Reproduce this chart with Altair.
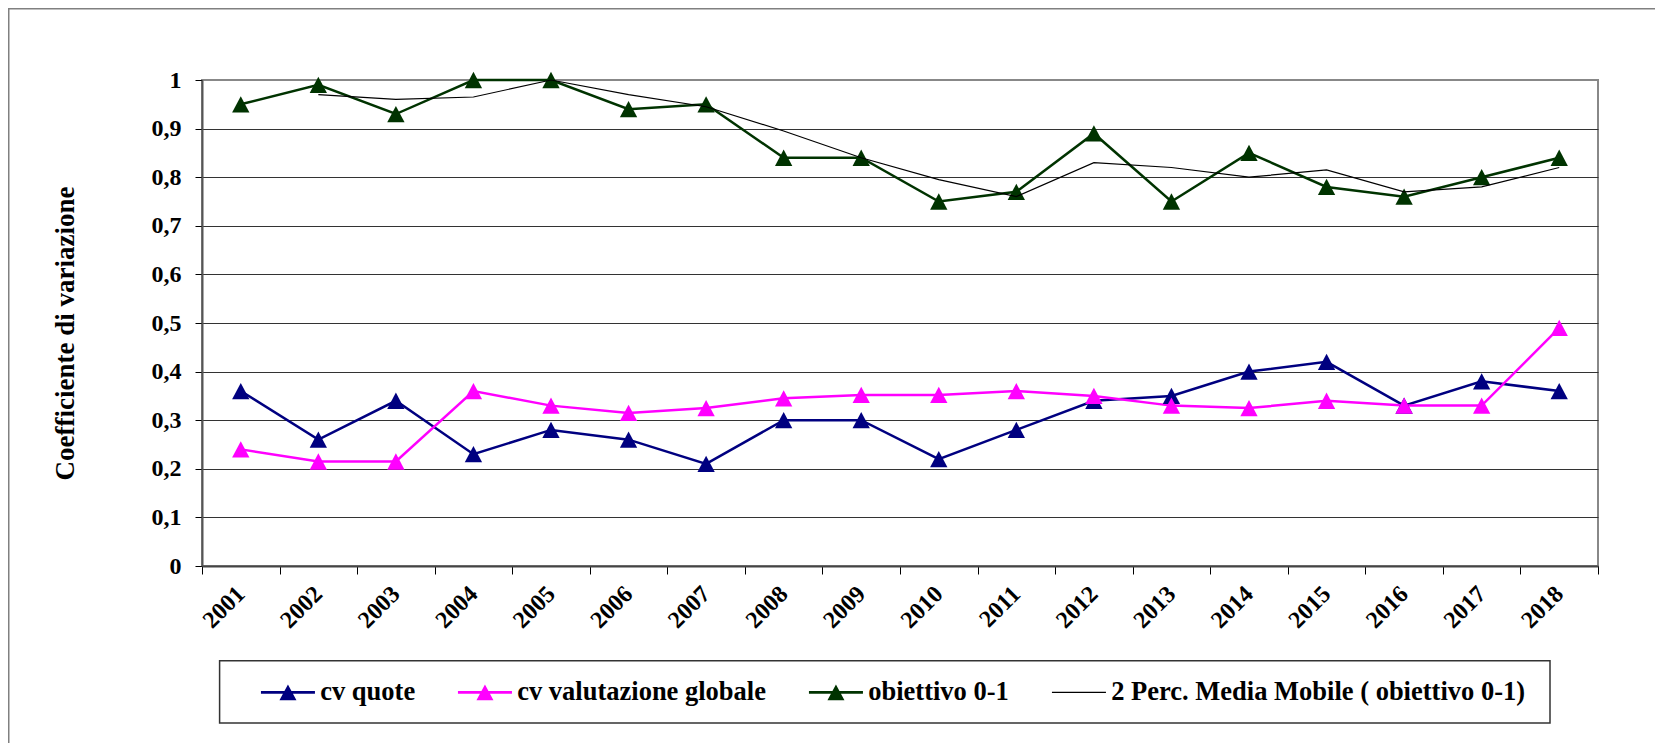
import altair as alt
import pandas as pd

# ---------------- data ----------------
years = [str(y) for y in range(2001, 2019)]
cv_quote = [0.36, 0.26, 0.34, 0.23, 0.28, 0.26, 0.21, 0.30, 0.30, 0.22,
            0.28, 0.34, 0.35, 0.40, 0.42, 0.33, 0.38, 0.36]
cv_valutazione = [0.24, 0.215, 0.215, 0.36, 0.33, 0.315, 0.325, 0.345, 0.352, 0.352,
                  0.36, 0.35, 0.33, 0.325, 0.34, 0.33, 0.33, 0.49]
obiettivo = [0.95, 0.99, 0.93, 1.00, 1.00, 0.94, 0.95, 0.84, 0.84, 0.75,
             0.77, 0.89, 0.75, 0.85, 0.78, 0.76, 0.80, 0.84]
media_mobile = [None, 0.97, 0.96, 0.965, 1.00, 0.97, 0.945, 0.895, 0.84, 0.795,
                0.76, 0.83, 0.82, 0.80, 0.815, 0.77, 0.78, 0.82]

series_names = ["cv quote", "cv valutazione globale", "obiettivo 0-1",
                "2 Perc. Media Mobile ( obiettivo 0-1)"]
series_values = [cv_quote, cv_valutazione, obiettivo, media_mobile]
series_colors = ["#000080", "#FF00FF", "#003300", "#000000"]
series_widths = [2.5, 2.5, 3.0, 1.2]
y_ticks = [0, 0.1, 0.2, 0.3, 0.4, 0.5, 0.6, 0.7, 0.8, 0.9, 1.0]
y_title = "Coefficiente di variazione"

rows = []
for name, vals in zip(series_names, series_values):
    for yr, v in zip(years, vals):
        if v is not None:
            rows.append({"anno": yr, "valore": v, "serie": name})
df = pd.DataFrame(rows)

MA = series_names[3]
FONT = "Liberation Serif"
TRI = "M0,-0.94L1,0.94L-1,0.94Z"

LEG_TRI = "M-2.077,-0.1H2.077V0.1H-2.077ZM0,-0.615L0.654,0.615H-0.654Z"
LEG_LINE = "M-2.077,-0.04H2.077V0.04H-2.077Z"

x_enc = alt.X(
    "anno:O",
    sort=years,
    bandPosition=0.5,
    scale=alt.Scale(type="band", paddingInner=0, paddingOuter=0),
    axis=alt.Axis(
        title=None, labelAngle=-45, labelAlign="right", labelBaseline="middle",
        labelFont=FONT, labelFontSize=24, labelFontWeight="bold", labelColor="#000",
        labelPadding=16, tickBand="extent", tickSize=8, tickColor="#000",
        tickWidth=1, domainColor="#444", domainWidth=2, grid=False,
    ),
)
y_enc = alt.Y(
    "valore:Q",
    scale=alt.Scale(domain=[0, 1], nice=False, zero=True),
    axis=alt.Axis(
        values=y_ticks,
        labelExpr="replace(format(datum.value, '.1~f'), '.', ',')",
        labelFont=FONT, labelFontSize=24, labelFontWeight="bold", labelColor="#000",
        labelPadding=14, tickSize=7, tickColor="#000", tickWidth=1,
        domainColor="#555", domainWidth=2,
        grid=True, gridColor={"condition": {"test": "datum.value == 1", "value": "#888"}, "value": "#333"},
        gridWidth=1,
        title=y_title, titleFont=FONT, titleFontSize=27, titleFontWeight="bold",
        titleColor="#000", titleAngle=270, titleX=-129, titleY=253,
        titleBaseline="alphabetic", titleAlign="center",
    ),
)

base = alt.Chart(df)

# lines of the three measured series (own stroke scale, no legend)
lines = base.transform_filter(alt.datum.serie != MA).mark_line().encode(
    x=x_enc, y=y_enc,
    stroke=alt.Stroke("serie:N", scale=alt.Scale(domain=series_names[:3], range=series_colors[:3]), legend=None),
    strokeWidth=alt.StrokeWidth("serie:N", scale=alt.Scale(domain=series_names[:3], range=series_widths[:3]), legend=None),
    order=alt.Order("anno:O"),
)

legend = alt.Legend(
    title=None, orient="none", legendX=58.7, legendY=599, direction="horizontal",
    columns=4, columnPadding=42, padding=0,
    symbolType={"expr": f"datum.index == 3 ? '{LEG_LINE}' : '{LEG_TRI}'"},
    symbolSize=676, symbolStrokeWidth=0, symbolOpacity=1, symbolOffset=14,
    labelOffset=19, labelFont=FONT, labelFontSize=26.5, labelFontWeight="bold",
    labelColor="#000", labelLimit=1000,
)

points = base.transform_filter(alt.datum.serie != MA).mark_point(
    filled=True, shape=TRI, size=300, opacity=1, strokeWidth=0
).encode(
    x=x_enc, y=y_enc,
    color=alt.Color("serie:N", scale=alt.Scale(domain=series_names, range=series_colors), legend=legend),
)

ma = base.transform_filter(alt.datum.serie == MA).mark_line(
    strokeWidth=series_widths[3], color=series_colors[3]
).encode(
    x=x_enc, y=y_enc,
    order=alt.Order("anno:O"),
)

# decorative frames: outer chart border and legend box
one_row = pd.DataFrame({"k": [0]})
border = alt.Chart(one_row).mark_rect(
    filled=False, stroke="#808080", strokeWidth=1.5
).encode(
    x=alt.value(-193.25), x2=alt.value(2000), y=alt.value(-71.25), y2=alt.value(1000)
)
legend_box = alt.Chart(one_row).mark_rect(
    filled=False, stroke="#333333", strokeWidth=1.5
).encode(
    x=alt.value(17.6), x2=alt.value(1348), y=alt.value(580.7), y2=alt.value(643)
)

chart = alt.layer(border, legend_box, lines, points, ma).properties(
    width=1396, height=486,
    autosize=alt.AutoSizeParams(type="none"),
    padding={"left": 194, "top": 72, "right": 57, "bottom": 177},
    background="#ffffff",
).configure_view(stroke="#888", strokeWidth=2)

chart.save("out.html", embed_options={"renderer": "svg", "actions": False})
